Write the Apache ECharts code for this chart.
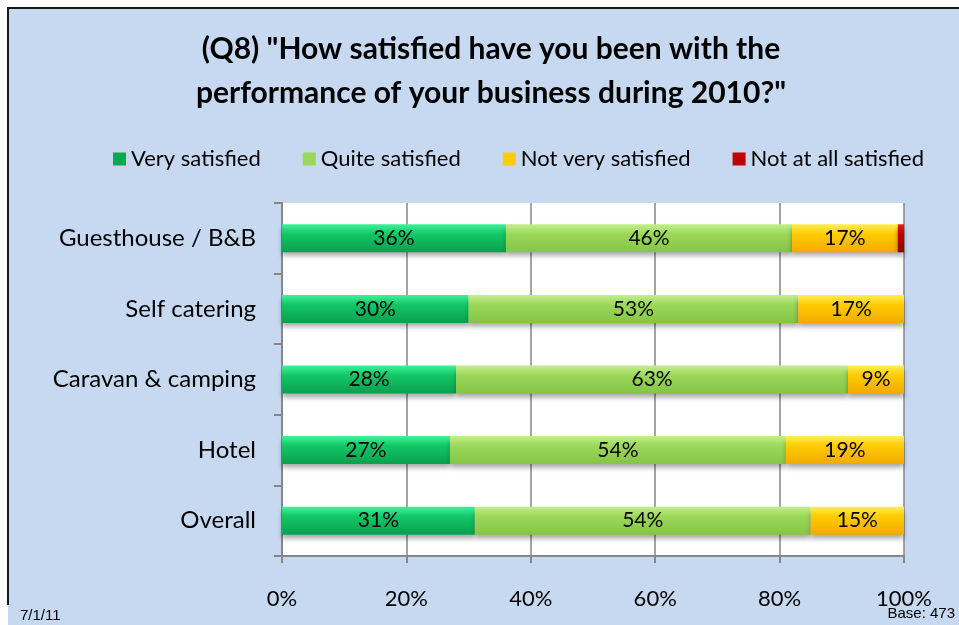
<!DOCTYPE html>
<html>
<head>
<meta charset="utf-8">
<script src="https://cdn.jsdelivr.net/npm/echarts@6/dist/echarts.min.js"></script>
<style>
  html, body { margin: 0; padding: 0; background: #fff; }
  #chart { width: 959px; height: 625px; }
</style>
</head>
<body>
<div id="chart"></div>
<script>
// data
var categories = ['Overall', 'Hotel', 'Caravan & camping', 'Self catering', 'Guesthouse / B&B'];
var verySatisfied = [31, 27, 28, 30, 36];
var quiteSatisfied = [54, 54, 63, 53, 46];
var notVerySatisfied = [15, 19, 9, 17, 17];
var notAtAllSatisfied = [0, 0, 0, 0, 1];
var seriesNames = ['Very satisfied', 'Quite satisfied', 'Not very satisfied', 'Not at all satisfied'];
var xTicks = [0, 20, 40, 60, 80, 100];

var FONT = 'Lato, "Open Sans", sans-serif';

function grad(top, mid, bottom) {
    return new echarts.graphic.LinearGradient(0, 0, 0, 1, [
        { offset: 0, color: top },
        { offset: 0.35, color: mid },
        { offset: 1, color: bottom }
    ]);
}

var palette = [
    grad('#3ff29a', '#12c765', '#0a9f4f'),
    grad('#c3ee8c', '#9bd85a', '#86c445'),
    grad('#ffee55', '#ffcc00', '#f2a900'),
    grad('#e02020', '#c00000', '#8f0000')
];
var legendColors = ['#0aa852', '#9bd85a', '#ffcc00', '#c00000'];

function makeSeries(name, data, idx) {
    return {
        name: name,
        type: 'bar',
        stack: 'total',
        barWidth: 28,
        data: data,
        itemStyle: {
            color: palette[idx],
            shadowColor: 'rgba(0,0,0,0.35)',
            shadowBlur: 5,
            shadowOffsetY: 4
        },
        label: {
            show: true,
            position: 'inside',
            color: '#000',
            fontSize: 21,
            fontFamily: FONT,
            formatter: function (p) { return p.value >= 3 ? p.value + '%' : ''; }
        }
    };
}

var chart = echarts.init(document.getElementById('chart'));

chart.setOption({
    backgroundColor: '#fff',
    animation: false,
    textStyle: { fontFamily: FONT },
    title: {
        text: '(Q8) "How satisfied have you been with the\nperformance of your business during 2010?"',
        left: 486,
        top: 22,
        textAlign: 'center',
        textStyle: { fontSize: 30, fontWeight: 'bold', color: '#000', lineHeight: 44, fontFamily: FONT }
    },
    legend: {
        top: 143,
        left: 108,
        itemWidth: 13,
        itemHeight: 13,
        itemGap: 42,
        icon: 'rect',
        textStyle: { fontSize: 22, color: '#000', fontFamily: FONT },
        data: seriesNames.map(function (n, i) {
            return { name: n, itemStyle: { color: legendColors[i] } };
        })
    },
    grid: {
        left: 282,
        right: 55,
        top: 203,
        bottom: 69,
        show: true,
        backgroundColor: '#fff',
        borderWidth: 0,
        containLabel: false
    },
    xAxis: {
        type: 'value',
        min: xTicks[0],
        max: xTicks[xTicks.length - 1],
        interval: 20,
        axisLine: { show: true, lineStyle: { color: '#868686', width: 2 } },
        axisTick: { show: true, length: 7, lineStyle: { color: '#868686', width: 2 } },
        splitLine: { show: true, lineStyle: { color: '#868686', width: 1.5 } },
        axisLabel: { margin: 32, fontSize: 22, color: '#000', formatter: '{value}%' }
    },
    yAxis: {
        type: 'category',
        data: categories,
        axisLine: { show: true, lineStyle: { color: '#868686', width: 2 } },
        axisTick: { show: true, length: 8, lineStyle: { color: '#868686', width: 2 } },
        axisLabel: { margin: 26, fontSize: 24, color: '#000' }
    },
    graphic: [
        {
            type: 'rect',
            z: -10,
            silent: true,
            shape: { x: 8, y: 8, width: 1000, height: 700 },
            style: { fill: '#c6d9f1' }
        },
        {
            type: 'polyline',
            z: -9,
            silent: true,
            shape: { points: [[8, 605], [8, 8], [960, 8]] },
            style: { stroke: '#1a1a1a', lineWidth: 2, fill: null }
        },
        {
            type: 'text',
            left: 20,
            top: 608,
            style: { text: '7/1/11', fontSize: 15, fill: '#000', fontFamily: 'Liberation Sans, Arial, sans-serif' }
        },
        {
            type: 'text',
            right: 4,
            top: 606,
            z: 100,
            style: { text: 'Base: 473', fontSize: 15, fill: '#000', fontFamily: 'Liberation Sans, Arial, sans-serif' }
        }
    ],
    series: [
        makeSeries(seriesNames[0], verySatisfied, 0),
        makeSeries(seriesNames[1], quiteSatisfied, 1),
        makeSeries(seriesNames[2], notVerySatisfied, 2),
        makeSeries(seriesNames[3], notAtAllSatisfied, 3)
    ]
});
</script>
</body>
</html>
